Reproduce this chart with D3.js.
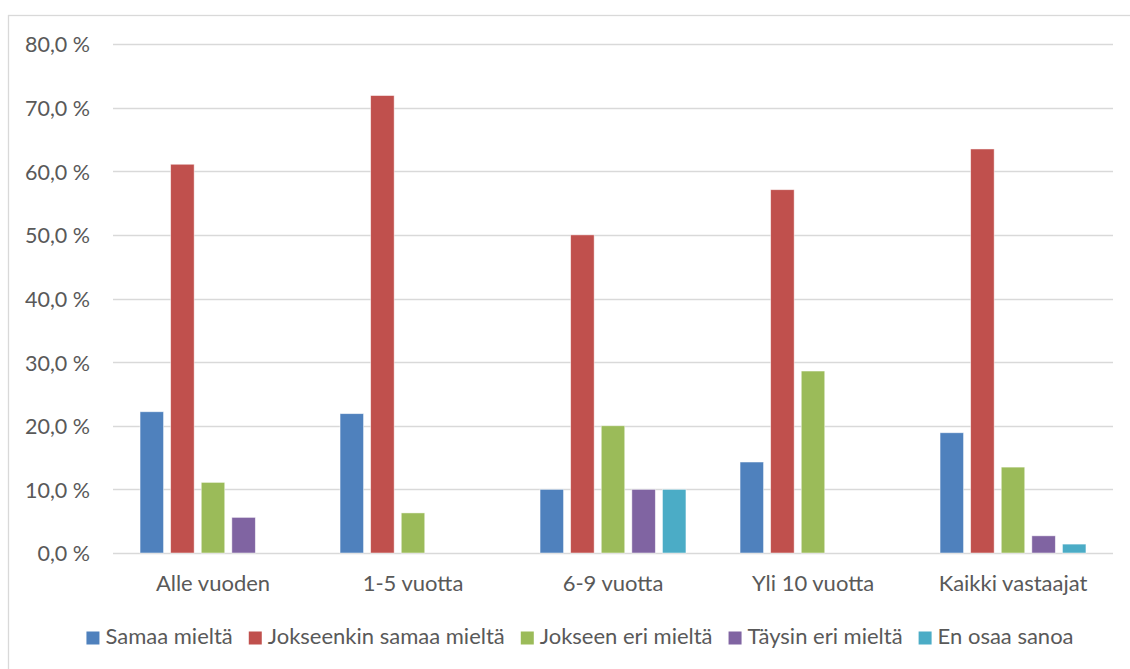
<!DOCTYPE html>
<html>
<head>
<meta charset="utf-8">
<script src="https://cdn.jsdelivr.net/npm/d3@7"></script>
<style>
  html, body { margin: 0; padding: 0; background: #fff; overflow: hidden; }
  svg text { font-family: Lato, "Open Sans", sans-serif; fill: #595959; }
</style>
</head>
<body>
<svg id="chart" width="1130" height="669"></svg>
<script>
// Kokemusvuodet (luokat)
const categories = ["Alle vuoden", "1-5 vuotta", "6-9 vuotta", "Yli 10 vuotta", "Kaikki vastaajat"];
// Vastausvaihtoehdot (sarjat)
const seriesNames = ["Samaa mieltä", "Jokseenkin samaa mieltä", "Jokseen eri mieltä", "Täysin eri mieltä", "En osaa sanoa"];
const seriesColors = ["#4F81BD", "#C0504D", "#9BBB59", "#8064A2", "#4BACC6"];
// Osuudet prosentteina, yksi taulukko kutakin sarjaa kohden
const samaaMielta      = [22.2, 21.9, 10.0, 14.3, 18.9];
const jokseenkinSamaa  = [61.1, 71.9, 50.0, 57.1, 63.5];
const jokseenEri       = [11.1,  6.3, 20.0, 28.6, 13.5];
const taysinEri        = [ 5.6,  0.0, 10.0,  0.0,  2.7];
const enOsaaSanoa      = [ 0.0,  0.0, 10.0,  0.0,  1.4];
const seriesValues = [samaaMielta, jokseenkinSamaa, jokseenEri, taysinEri, enOsaaSanoa];
const yTicks = [0, 10, 20, 30, 40, 50, 60, 70, 80];

const svg = d3.select("#chart");
const plot = { left: 113, right: 1113, top: 44, bottom: 553 };

// ulkokehys (oikea ja alareuna jäävät kuvan ulkopuolelle)
svg.append("rect")
  .attr("x", 8.5).attr("y", 15.5).attr("width", 1140).attr("height", 680)
  .attr("fill", "#fff").attr("stroke", "#D9D9D9").attr("stroke-width", 1.3);

const y = d3.scaleLinear().domain([0, 80]).range([plot.bottom, plot.top]);
const x0 = d3.scaleBand().domain(categories).range([plot.left, plot.right]).padding(0);
const x1 = d3.scaleBand().domain(seriesNames).range([0, x0.bandwidth()])
  .paddingInner(0.232).paddingOuter(0.884);

// vaakasuorat apuviivat
svg.append("g").selectAll("line").data(yTicks).join("line")
  .attr("x1", plot.left).attr("x2", plot.right)
  .attr("y1", d => Math.round(y(d)) + 0.5).attr("y2", d => Math.round(y(d)) + 0.5)
  .attr("stroke", "#D9D9D9").attr("stroke-width", 1.3);

// y-akseli
const fmt = d => d.toFixed(1).replace(".", ",") + " %";
const yAxis = svg.append("g").attr("transform", `translate(${plot.left - 23},1)`)
  .call(d3.axisLeft(y).tickValues(yTicks).tickFormat(fmt).tickSize(0).tickPadding(0));
yAxis.select(".domain").remove();
yAxis.selectAll("text").style("font-size", "21.5px").attr("fill", "#595959");

// pylväät
const groups = svg.append("g").selectAll("g").data(categories).join("g")
  .attr("transform", d => `translate(${x0(d)},0)`);
groups.selectAll("rect")
  .data((c, ci) => seriesNames.map((s, si) => ({ s, si, v: seriesValues[si][ci] })).filter(d => d.v > 0))
  .join("rect")
  .attr("x", d => x1(d.s))
  .attr("width", x1.bandwidth())
  .attr("y", d => y(d.v))
  .attr("height", d => y(0) - y(d.v))
  .attr("fill", d => seriesColors[d.si])
  .attr("stroke", "#fff").attr("stroke-opacity", 0.6).attr("stroke-width", 0.8);

// x-akseli
const xAxis = svg.append("g").attr("transform", `translate(0,${plot.bottom})`)
  .call(d3.axisBottom(x0).tickSize(0).tickPadding(0));
xAxis.select(".domain").remove();
xAxis.selectAll("text").style("font-size", "22px").attr("y", 38).attr("dy", null);

// selite
const legend = svg.append("g").attr("transform", "translate(0,644)");
const items = legend.selectAll("g").data(seriesNames).join("g");
items.append("rect").attr("width", 13).attr("height", 13).attr("y", -12.5)
  .attr("fill", (d, i) => seriesColors[i]);
items.append("text").attr("x", 19)
  .style("font-size", "22px").text(d => d);
let widths = [];
items.each(function () { widths.push(this.getBBox().width); });
const gap = 16;
const total = d3.sum(widths) + gap * (widths.length - 1);
let cx = 580 - total / 2;
items.attr("transform", (d, i) => { const t = `translate(${cx},0)`; cx += widths[i] + gap; return t; });
</script>
</body>
</html>
